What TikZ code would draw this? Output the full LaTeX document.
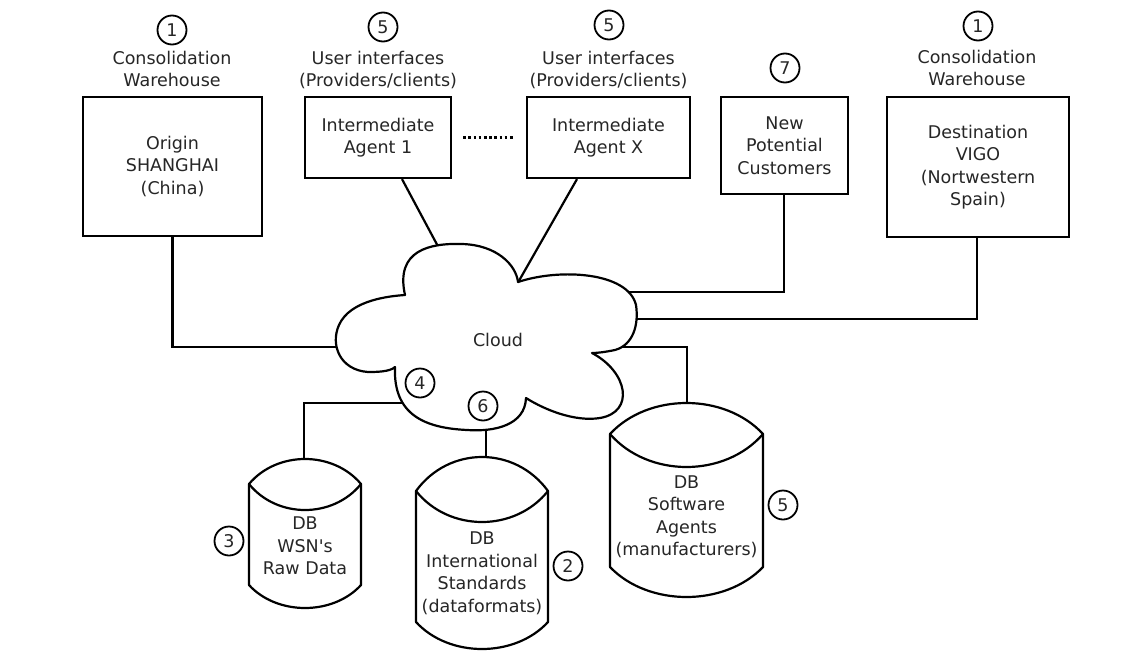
\documentclass[tikz,border=0pt]{standalone}
\usepackage{fontspec}
\setmainfont{DejaVu Sans}
\newcommand\dbshape[8]{%
  \pgfmathsetmacro\dbct{(8*#4-2*#5)/6}%
  \pgfmathsetmacro\dbci{(8*#6-2*#5)/6}%
  \pgfmathsetmacro\dbcb{(8*#8-2*#7)/6}%
  \pgfmathsetmacro\dbl{#2-#3}%
  \pgfmathsetmacro\dbr{#2+#3}%
  \pgfmathsetmacro\dbhl{#2-0.5*#3}%
  \pgfmathsetmacro\dbhr{#2+0.5*#3}%
  \draw[dbline, fill=white] (\dbl,#5) .. controls (\dbhl,\dbct) and (\dbhr,\dbct) .. (\dbr,#5)
     -- (\dbr,#7) .. controls (\dbhr,\dbcb) and (\dbhl,\dbcb) .. (\dbl,#7) -- cycle;
  \draw[dbline] (\dbl,#5) .. controls (\dbhl,\dbci) and (\dbhr,\dbci) .. (\dbr,#5);
}
\begin{document}
\begin{tikzpicture}[x=1pt,y=-1pt,
  every node/.style={font=\fontsize{17.5}{22.5}\selectfont, text=black!85, align=center},
  box/.style={draw=black, line width=2.2pt, fill=white, inner sep=0pt},
  conn/.style={draw=black, line width=2.2pt},
  num/.style={circle, draw=black, line width=1.8pt, minimum size=29pt, inner sep=0pt, fill=white},
  dbline/.style={draw=black, line width=2.2pt, line join=round},
  dots/.style={draw=black, line width=2.6pt, dash pattern=on 2.6pt off 2.6pt}]
\useasboundingbox (0,0) rectangle (1140,653);

% boxes
\node[box, minimum width=179pt, minimum height=139pt] (origin) at (172.5,166.5) {Origin\\SHANGHAI\\(China)};
\node[box, minimum width=146pt, minimum height=81pt] (ag1) at (378,137.5) {Intermediate\\Agent 1};
\node[box, minimum width=163pt, minimum height=81pt] (agx) at (608.5,137.5) {Intermediate\\Agent X};
\node[box, minimum width=127pt, minimum height=97pt] (newc) at (784.5,145.5) {New\\Potential\\Customers};
\node[box, minimum width=182pt, minimum height=140pt] (dest) at (978,167) {Destination\\VIGO\\(Nortwestern\\Spain)};

% labels above boxes
\node (lab-o) at (172,69) {Consolidation\\Warehouse};
\node (lab-a1) at (378,70) {User interfaces\\(Providers/clients)};
\node (lab-ax) at (608.5,70) {User interfaces\\(Providers/clients)};
\node (lab-d) at (977,68) {Consolidation\\Warehouse};

% cloud boundary anchor points
\coordinate (cl-w) at (350,347);
\coordinate (cl-a1) at (441,252);
\coordinate (cl-ax) at (516,286);
\coordinate (cl-nc) at (625,292);
\coordinate (cl-d) at (625,319);
\coordinate (cl-m) at (620,347);
\coordinate (cl-wsn) at (405,403);
\coordinate (cl-std) at (486,422);

% database tops
\coordinate (wsn-top) at (304,470);
\coordinate (std-top) at (486,470);
\coordinate (man-top) at (687,415);

% connectors
\draw[conn] (origin.south) |- (cl-w);
\draw[conn] ([xshift=24pt]ag1.south) -- (cl-a1);
\draw[conn] ([xshift=-31.5pt]agx.south) -- (cl-ax);
\draw[conn] ([xshift=-0.5pt]newc.south) |- (cl-nc);
\draw[conn] ([xshift=-1pt]dest.south) |- (cl-d);
\draw[conn] (cl-m) -| (man-top);
\draw[conn] (cl-wsn) -| (wsn-top);
\draw[conn] (cl-std) -- (std-top);
\draw[dots] ([xshift=11pt]ag1.east) -- ([xshift=-12pt]agx.west);

% cloud
\draw[line width=2.2pt, fill=white, line join=round]
  (405,295) .. controls (395,250) and (430,243) .. (462,244)
  .. controls (497,245) and (516,265) .. (518,282)
  .. controls (560,268) and (628,272) .. (636,305)
  .. controls (639,325) and (633,345) .. (615,350)
  .. controls (605,352) and (598,353) .. (592,353)
  .. controls (628,372) and (635,412) .. (600,418)
  .. controls (575,422) and (545,410) .. (526,398)
  .. controls (525,425) and (495,432) .. (467,430)
  .. controls (425,428) and (393,415) .. (395,367)
  .. controls (390,372) and (375,372) .. (368,372)
  .. controls (340,370) and (330,345) .. (339,325)
  .. controls (350,300) and (390,296) .. (405,295) -- cycle;
\node (cloud) at (498,340) {Cloud};

% databases
\dbshape{wsn}{305}{56}{459}{484}{510}{585}{608}
\dbshape{std}{482}{66}{457}{491}{522}{622}{649}
\dbshape{man}{686.5}{76.5}{403}{434}{467}{567}{597}
\node (wsn) at (305,546) {DB\\WSN\textquotesingle s\\Raw Data};
\node (std) at (482,573.5) {DB\\International\\Standards\\(dataformats)};
\node (man) at (686.5,517) {DB\\Software\\Agents\\(manufacturers)};

% numbered markers
\node[num] (n1a) at (172,30) {1};
\node[num] (n5a) at (383,27) {5};
\node[num] (n5b) at (609,25) {5};
\node[num] (n7) at (785,68) {7};
\node[num] (n1b) at (978,26) {1};
\node[num] (n4) at (420,383) {4};
\node[num] (n6) at (483,406) {6};
\node[num] (n3) at (229,541) {3};
\node[num] (n2) at (568,566) {2};
\node[num] (n5c) at (783,505) {5};
\end{tikzpicture}
\end{document}
